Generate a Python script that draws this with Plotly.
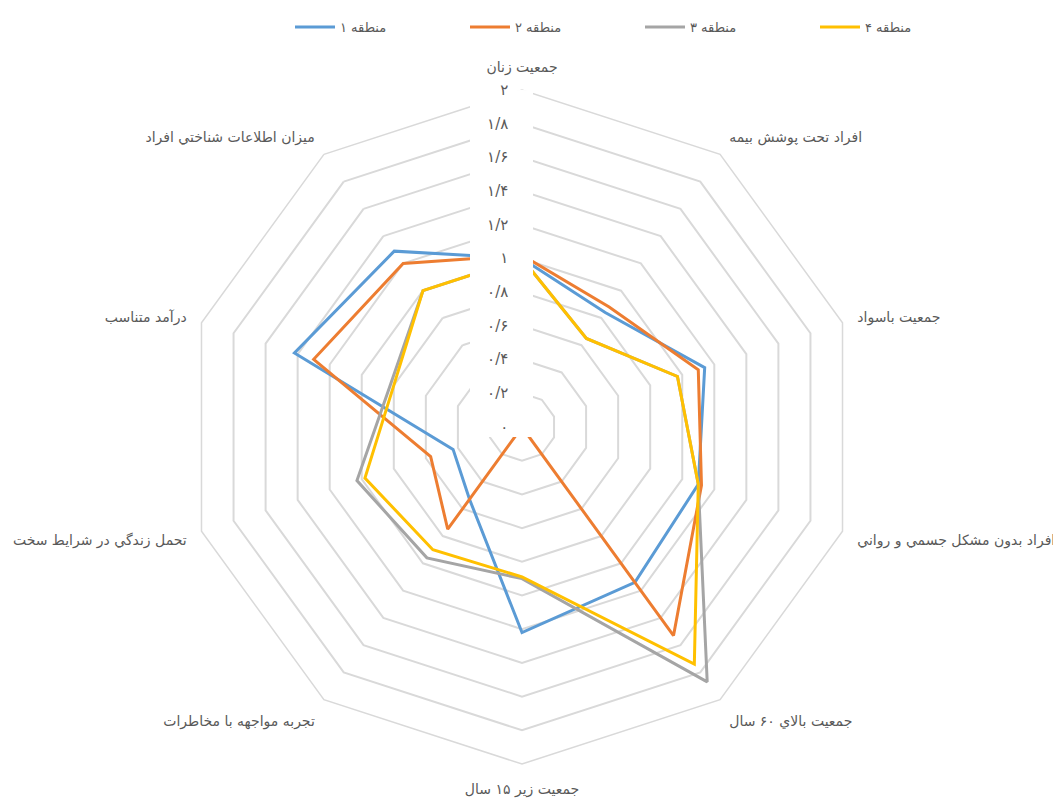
import numpy as np
import plotly.graph_objects as go

categories = [
    "جمعیت زنان",
    "افراد تحت پوشش بیمه",
    "جمعیت باسواد",
    "افراد بدون مشکل جسمي و رواني",
    "جمعیت بالاي ۶۰ سال",
    "جمعیت زیر ۱۵ سال",
    "تجربه مواجهه با مخاطرات",
    "تحمل زندگي در شرایط سخت",
    "درآمد متناسب",
    "میزان اطلاعات شناختي افراد",
]

series_names = ["منطقه ۱", "منطقه ۲", "منطقه ۳", "منطقه ۴"]
region1 = [1.00, 0.84, 1.14, 1.10, 1.14, 1.22, 0.53, 0.43, 1.42, 1.29]
region2 = [1.02, 0.88, 1.10, 1.12, 1.53, 0.00, 0.75, 0.57, 1.30, 1.20]
region3 = [1.00, 0.65, 0.97, 1.10, 1.87, 0.90, 0.96, 1.03, 0.82, 1.00]
region4 = [1.00, 0.65, 0.97, 1.10, 1.74, 0.89, 0.90, 0.98, 0.80, 1.00]

tick_vals = [0, 0.2, 0.4, 0.6, 0.8, 1.0, 1.2, 1.4, 1.6, 1.8, 2.0]
tick_text = ["۰", "۰/۲", "۰/۴", "۰/۶", "۰/۸", "۱", "۱/۲", "۱/۴", "۱/۶", "۱/۸", "۲"]

colors = ["#5B9BD5", "#ED7D31", "#A5A5A5", "#FFC000"]
text_color = "#595959"
grid_color = "#D9D9D9"
font_family = "DejaVu Sans"

fig = go.Figure()

for name, vals, col in zip(series_names, [region1, region2, region3, region4], colors):
    fig.add_trace(go.Scatterpolar(
        r=vals + [vals[0]],
        theta=categories + [categories[0]],
        mode="lines",
        name=name,
        line=dict(color=col, width=3),
        subplot="polar",
    ))

# page body has an 8px margin, so the figure is laid out 8px smaller
W, H = 1053, 799
cx, cy, R = 514, 419, 337
px_per_unit = R / 2.0

# white strip behind the radial tick labels (as in the original chart)
rect_x = np.array([-52, 11, 11, -52, -52]) / px_per_unit
rect_y = np.array([-10, -10, 353, 353, -10]) / px_per_unit
mask_r = np.hypot(rect_x, rect_y)
mask_theta = np.degrees(np.arctan2(rect_x, rect_y))
fig.add_trace(go.Scatterpolar(
    r=mask_r, theta=mask_theta, mode="lines", fill="toself",
    fillcolor="white", line=dict(width=0, color="white"),
    showlegend=False, hoverinfo="skip", subplot="polar2", cliponaxis=False,
))

dom_x = [(cx - R) / W, (cx + R) / W]
dom_y = [1 - (cy + R) / H, 1 - (cy - R) / H]

fig.update_layout(
    width=W, height=H,
    margin=dict(l=0, r=0, t=0, b=0, autoexpand=False),
    paper_bgcolor="white",
    font=dict(family=font_family, color=text_color, size=14),
    showlegend=True,
    legend=dict(orientation="h", x=282 / W, xanchor="left", y=0.995, yanchor="top",
                font=dict(size=13, color=text_color), itemwidth=40,
                entrywidth=120, entrywidthmode="pixels",
                traceorder="normal"),
    polar=dict(
        domain=dict(x=dom_x, y=dom_y),
        bgcolor="white",
        gridshape="linear",
        radialaxis=dict(range=[0, 2], tickvals=tick_vals, showticklabels=False,
                        showline=False, ticks="", gridcolor=grid_color, gridwidth=1.5),
        angularaxis=dict(type="category", direction="clockwise", rotation=90,
                         showgrid=False, linecolor=grid_color, linewidth=1.5,
                         ticks="outside", ticklen=12, tickcolor="rgba(0,0,0,0)",
                         tickfont=dict(size=14, color=text_color)),
    ),
    polar2=dict(
        domain=dict(x=dom_x, y=dom_y),
        bgcolor="rgba(0,0,0,0)",
        radialaxis=dict(range=[0, 2], tickvals=tick_vals, ticktext=tick_text,
                        showgrid=False, showline=False, angle=90,
                        ticks="outside", ticklen=8, tickcolor="rgba(0,0,0,0)",
                        tickangle=90, side="counterclockwise",
                        tickfont=dict(size=15, color=text_color)),
        angularaxis=dict(type="linear", thetaunit="degrees", direction="clockwise",
                         rotation=90, showgrid=False, showline=False,
                         showticklabels=False, ticks=""),
    ),
)

fig.write_html("out.html")
